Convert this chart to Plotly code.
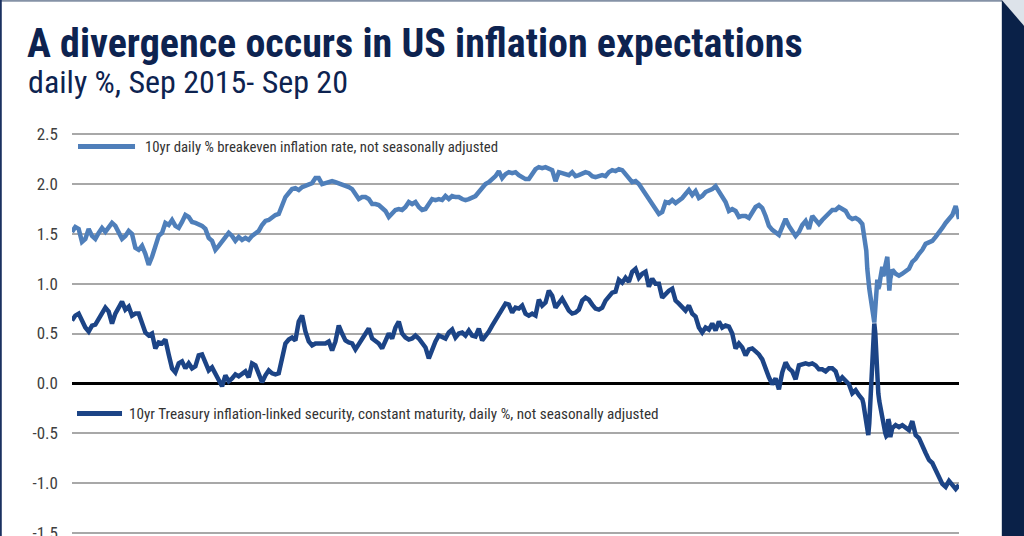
import pandas as pd
import plotly.graph_objects as go

# ---------------- data ----------------
title_text = "A divergence occurs in US inflation expectations"
subtitle_text = "daily %, Sep 2015- Sep 20"
series_names = [
    "10yr daily % breakeven inflation rate, not seasonally adjusted",
    "10yr Treasury inflation-linked security, constant maturity, daily %, not seasonally adjusted",
]
tick_values = [2.5, 2.0, 1.5, 1.0, 0.5, 0.0, -0.5, -1.0, -1.5]
tick_labels = ["2.5", "2.0", "1.5", "1.0", "0.5", "0.0", "-0.5", "-1.0", "-1.5"]

# weekly readings, Sep 2015 -> early Mar 2020
breakeven_weekly_a = [
    1.52, 1.57, 1.55, 1.42, 1.45, 1.55, 1.48, 1.45, 1.51, 1.56, 1.52, 1.57, 1.61, 1.58, 1.52, 1.45,
    1.48, 1.53, 1.50, 1.36, 1.34, 1.38, 1.30, 1.19, 1.27, 1.38, 1.48, 1.51, 1.61, 1.59, 1.64, 1.58,
    1.56, 1.62, 1.69, 1.67, 1.62, 1.61, 1.60, 1.58, 1.55, 1.46, 1.43, 1.34, 1.38, 1.43, 1.46, 1.51,
    1.48, 1.43, 1.47, 1.44, 1.46, 1.44, 1.48, 1.50, 1.53, 1.59, 1.63, 1.64, 1.67, 1.69, 1.70, 1.80,
    1.87, 1.91, 1.95,
    1.96, 1.94, 1.97, 1.98, 1.99, 2.01, 2.06, 2.06, 2.00, 2.01, 2.03, 2.03, 2.02, 2.01, 2.00, 1.98,
    1.97, 1.95, 1.90, 1.85, 1.87, 1.87, 1.85, 1.80, 1.80, 1.79, 1.76, 1.73, 1.67, 1.70, 1.74, 1.75,
    1.74, 1.77, 1.82, 1.80, 1.82, 1.77, 1.74, 1.75, 1.80, 1.85, 1.84, 1.85, 1.84, 1.88, 1.85, 1.88,
    1.87, 1.87, 1.85, 1.84, 1.85, 1.87, 1.88, 1.92, 1.97, 2.00, 2.02, 2.05, 2.08, 2.13, 2.06, 2.10,
    2.12, 2.11,
    2.12, 2.09, 2.07, 2.05, 2.05, 2.10, 2.15, 2.17, 2.16, 2.17, 2.16, 2.14, 2.03, 2.12, 2.11, 2.10,
    2.09, 2.12, 2.08, 2.09, 2.11, 2.12, 2.11, 2.08, 2.07, 2.08, 2.09, 2.08, 2.12, 2.14, 2.13, 2.15,
    2.14, 2.10, 2.05, 2.02, 2.03, 2.00, 1.95, 1.90, 1.86, 1.80, 1.76, 1.70, 1.72, 1.82, 1.81, 1.84,
    1.81, 1.83, 1.86, 1.90, 1.94, 1.89, 1.93, 1.86, 1.88, 1.92, 1.93, 1.95, 1.98, 1.92, 1.87, 1.82,
    1.73, 1.75, 1.73, 1.67,
    1.68, 1.68, 1.66, 1.72, 1.77, 1.79, 1.76, 1.68, 1.58, 1.54, 1.52, 1.49, 1.57, 1.65, 1.58, 1.53,
    1.48, 1.52, 1.59, 1.63, 1.55, 1.68, 1.64, 1.60, 1.64, 1.67, 1.71, 1.74, 1.74, 1.77, 1.75, 1.73,
    1.67, 1.65, 1.66, 1.64,
]
tips_weekly_a = [
    0.63, 0.68, 0.70, 0.62, 0.56, 0.52, 0.58, 0.59, 0.65, 0.70, 0.76, 0.72, 0.60, 0.70, 0.76, 0.82,
    0.74, 0.77, 0.68, 0.70, 0.70, 0.60, 0.51, 0.48, 0.50, 0.35, 0.41, 0.40, 0.44, 0.29, 0.15, 0.11,
    0.20, 0.22, 0.15, 0.20, 0.15, 0.17, 0.28, 0.29, 0.22, 0.13, 0.16, 0.09, 0.02, -0.03, 0.08, 0.02,
    0.05, 0.09, 0.07, 0.09, 0.12, 0.06, 0.20, 0.18, 0.08, 0.01, 0.08, 0.13, 0.10, 0.09, 0.10, 0.25,
    0.40, 0.44, 0.46,
    0.43, 0.62, 0.68, 0.52, 0.42, 0.38, 0.40, 0.40, 0.41, 0.40, 0.42, 0.33, 0.42, 0.58, 0.50, 0.43,
    0.41, 0.40, 0.34, 0.39, 0.43, 0.49, 0.55, 0.45, 0.43, 0.40, 0.35, 0.43, 0.50, 0.45, 0.56, 0.62,
    0.50, 0.46, 0.44, 0.45, 0.48, 0.45, 0.41, 0.36, 0.25, 0.35, 0.42, 0.48, 0.47, 0.45, 0.51, 0.54,
    0.46, 0.50, 0.51, 0.48, 0.53, 0.48, 0.47, 0.55, 0.43, 0.47, 0.52, 0.58, 0.64, 0.70, 0.75, 0.80,
    0.79, 0.71,
    0.76, 0.75, 0.78, 0.70, 0.68, 0.70, 0.68, 0.84, 0.78, 0.81, 0.93, 0.88, 0.76, 0.80, 0.85, 0.79,
    0.73, 0.70, 0.71, 0.74, 0.83, 0.86, 0.84, 0.79, 0.75, 0.74, 0.76, 0.83, 0.88, 0.91, 0.92, 1.04,
    1.01, 1.06, 1.02, 1.12, 1.15, 1.06, 1.10, 1.12, 0.97, 1.05, 1.00, 1.00, 0.86, 0.90, 0.93, 0.95,
    0.83, 0.80, 0.76, 0.73, 0.78, 0.70, 0.67, 0.56, 0.51, 0.56, 0.54, 0.60, 0.53, 0.62, 0.56, 0.58,
    0.57, 0.50, 0.35, 0.40,
    0.36, 0.28, 0.34, 0.35, 0.32, 0.29, 0.24, 0.14, 0.06, -0.01, 0.05, -0.06, 0.11, 0.21, 0.15, 0.12,
    0.04, 0.18, 0.19, 0.20, 0.19, 0.20, 0.18, 0.14, 0.14, 0.12, 0.15, 0.15, 0.12, 0.02, 0.06, 0.03,
    -0.01, -0.10, -0.07, -0.12,
]
# finer readings through the March 2020 turmoil
breakeven_crash = [
    1.60, 1.54, 1.49, 1.43, 1.33, 1.15, 0.99, 0.95, 0.88, 0.83, 0.76, 0.68, 0.61, 0.83, 1.00, 1.04,
    0.95, 0.98, 1.05, 1.12, 1.17, 1.08, 1.10, 1.18, 1.25, 1.27, 1.10, 0.93, 1.05, 1.12, 1.14,
]
tips_crash = [
    -0.16, -0.20, -0.27, -0.33, -0.39, -0.52, -0.52, -0.40, -0.20, 0.02, 0.22, 0.40, 0.60, 0.50, 0.26, 0.06,
    -0.10, -0.18, -0.24, -0.32, -0.38, -0.42, -0.46, -0.50, -0.53, -0.52, -0.36, -0.40, -0.54, -0.48, -0.45,
]
# weekly readings, May 2020 -> Sep 2020
breakeven_weekly_c = [
    1.10, 1.08, 1.10, 1.13, 1.15, 1.22, 1.25, 1.30, 1.34, 1.40, 1.41, 1.43, 1.47, 1.51, 1.56, 1.61,
    1.65, 1.69, 1.78, 1.65,
]
tips_weekly_c = [
    -0.42, -0.44, -0.42, -0.45, -0.47, -0.38, -0.52, -0.55, -0.64, -0.70, -0.77, -0.80, -0.87, -0.94, -1.01, -1.04,
    -0.98, -1.02, -1.06, -1.02,
]

# ---------------- dates ----------------
grid = pd.date_range("2015-09-01", "2020-09-25", periods=267)
n_a = len(breakeven_weekly_a)
dates_a = grid[:n_a]
dates_b = pd.date_range(grid[n_a], grid[n_a + 9], periods=len(breakeven_crash))
dates_c = grid[n_a + 10:]
dates = dates_a.append(dates_b).append(dates_c)

breakeven = breakeven_weekly_a + breakeven_crash + breakeven_weekly_c
tips = tips_weekly_a + tips_crash + tips_weekly_c

# ---------------- styling ----------------
W, H = 1024, 536
L, R = 72, 958.7          # plot area left/right in pixels
T, B = 130, 536           # plot area top/bottom in pixels
zero_px, top_px = 383.3, 134.3
ppu = (zero_px - top_px) / 2.5
y_top = (zero_px - T) / ppu
y_bot = -(B - zero_px) / ppu

def px_x(p):
    return (p - L) / (R - L)

def px_y(p):
    return 1 - (p - T) / (B - T)

NAVY = "#0d2350"
LIGHT = "#4f7fba"
DARK = "#1c4486"
FONT = "'Roboto Condensed', 'Liberation Sans Narrow', Roboto, sans-serif"

fig = go.Figure()
fig.add_trace(go.Scatter(x=dates, y=breakeven, mode="lines", name=series_names[0],
                         line=dict(color=LIGHT, width=4.5)))
fig.add_trace(go.Scatter(x=dates, y=tips, mode="lines", name=series_names[1],
                         line=dict(color=DARK, width=4.5)))

fig.update_layout(
    width=W, height=H,
    margin=dict(l=L, r=W - R, t=T, b=H - B, pad=0, autoexpand=False),
    paper_bgcolor="white", plot_bgcolor="white",
    showlegend=False,
    font=dict(family=FONT, color="#404040"),
    xaxis=dict(range=[grid[0], grid[-1]], visible=False, showgrid=False, zeroline=False,
               automargin=False),
    yaxis=dict(range=[y_bot, y_top], tickvals=tick_values, ticktext=tick_labels,
               showgrid=True, gridcolor="#a8a8a8", gridwidth=1.5,
               zeroline=True, zerolinecolor="black", zerolinewidth=3,
               showline=False, ticks="", ticklabelstandoff=13, automargin=False,
               ticklabeloverflow="allow",
               tickfont=dict(family=FONT, size=17, color="#404040")),
)

shapes = [
    # top border
    dict(type="line", xref="paper", yref="paper", x0=px_x(0), x1=px_x(1002), y0=px_y(0.8), y1=px_y(0.8),
         line=dict(color="#8592a6", width=2)),
    # left border
    dict(type="line", xref="paper", yref="paper", x0=px_x(0.8), x1=px_x(0.8), y0=px_y(0), y1=px_y(536),
         line=dict(color="#1a3160", width=2)),
    # folded corner
    dict(type="path", xref="paper", yref="paper",
         path=f"M {px_x(1001.5)} {px_y(0)} L {px_x(1024)} {px_y(0)} L {px_x(1024)} {px_y(26)} Z",
         fillcolor="#dde3ea", line=dict(width=0)),
    # navy band
    dict(type="path", xref="paper", yref="paper",
         path=f"M {px_x(1001.5)} {px_y(0)} L {px_x(1024)} {px_y(26)} L {px_x(1024)} {px_y(536)} "
              f"L {px_x(1001.5)} {px_y(536)} Z",
         fillcolor="#0a2148", line=dict(width=0)),
    # legend keys
    dict(type="line", xref="paper", yref="paper", x0=px_x(78), x1=px_x(135), y0=px_y(146.5), y1=px_y(146.5),
         line=dict(color=LIGHT, width=5)),
    dict(type="line", xref="paper", yref="paper", x0=px_x(77), x1=px_x(122), y0=px_y(413.5), y1=px_y(413.5),
         line=dict(color=DARK, width=5)),
]
fig.update_layout(shapes=shapes)

annotations = [
    dict(text=f"<b>{title_text}</b>", x=px_x(25), y=px_y(44), xref="paper", yref="paper",
         xanchor="left", yanchor="middle", showarrow=False,
         font=dict(family=FONT, size=40, color=NAVY)),
    dict(text=subtitle_text, x=px_x(26), y=px_y(82), xref="paper", yref="paper",
         xanchor="left", yanchor="middle", showarrow=False,
         font=dict(family=FONT, size=32, color=NAVY)),
    dict(text=series_names[0], x=px_x(143), y=px_y(147), xref="paper", yref="paper",
         xanchor="left", yanchor="middle", showarrow=False,
         font=dict(family=FONT, size=14.8, color="#333333")),
    dict(text=series_names[1], x=px_x(127), y=px_y(414), xref="paper", yref="paper",
         xanchor="left", yanchor="middle", showarrow=False,
         font=dict(family=FONT, size=15.2, color="#333333")),
]
fig.update_layout(annotations=annotations)

fig.write_html("out.html")
